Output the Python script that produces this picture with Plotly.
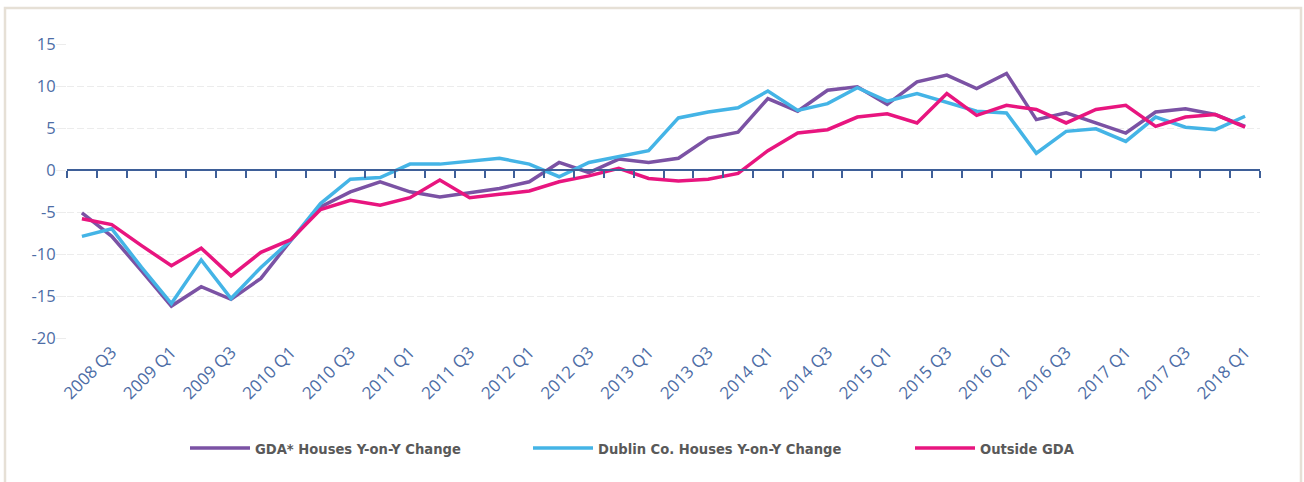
import plotly.graph_objects as go

quarters = [
    "2008 Q2", "2008 Q3", "2008 Q4", "2009 Q1", "2009 Q2", "2009 Q3", "2009 Q4", "2010 Q1",
    "2010 Q2", "2010 Q3", "2010 Q4", "2011 Q1", "2011 Q2", "2011 Q3", "2011 Q4", "2012 Q1",
    "2012 Q2", "2012 Q3", "2012 Q4", "2013 Q1", "2013 Q2", "2013 Q3", "2013 Q4", "2014 Q1",
    "2014 Q2", "2014 Q3", "2014 Q4", "2015 Q1", "2015 Q2", "2015 Q3", "2015 Q4", "2016 Q1",
    "2016 Q2", "2016 Q3", "2016 Q4", "2017 Q1", "2017 Q2", "2017 Q3", "2017 Q4", "2018 Q1",
]

gda = [-5.1, -7.9, -12.0, -16.2, -13.9, -15.4, -12.9, -8.4, -4.4, -2.6,
       -1.4, -2.6, -3.2, -2.7, -2.2, -1.4, 0.9, -0.3, 1.3, 0.9,
       1.4, 3.8, 4.5, 8.5, 7.0, 9.5, 9.9, 7.8, 10.5, 11.3,
       9.7, 11.5, 6.0, 6.8, 5.6, 4.4, 6.9, 7.3, 6.6, 5.2]

dublin = [-7.9, -7.0, -11.6, -15.9, -10.7, -15.3, -11.6, -8.4, -4.0, -1.1,
          -0.9, 0.7, 0.7, 1.0, 1.4, 0.7, -0.8, 0.9, 1.6, 2.3,
          6.2, 6.9, 7.4, 9.4, 7.1, 7.9, 9.8, 8.2, 9.1, 8.0,
          7.0, 6.8, 2.0, 4.6, 4.9, 3.4, 6.3, 5.1, 4.8, 6.4]

outside = [-5.8, -6.5, -9.0, -11.4, -9.3, -12.6, -9.8, -8.3, -4.7, -3.6,
           -4.2, -3.3, -1.2, -3.3, -2.9, -2.5, -1.4, -0.7, 0.2, -1.0,
           -1.3, -1.1, -0.4, 2.3, 4.4, 4.8, 6.3, 6.7, 5.6, 9.1,
           6.5, 7.7, 7.2, 5.6, 7.2, 7.7, 5.2, 6.3, 6.6, 5.1]

x_labels = ["2008 Q3", "2009 Q1", "2009 Q3", "2010 Q1", "2010 Q3", "2011 Q1", "2011 Q3",
            "2012 Q1", "2012 Q3", "2013 Q1", "2013 Q3", "2014 Q1", "2014 Q3", "2015 Q1",
            "2015 Q3", "2016 Q1", "2016 Q3", "2017 Q1", "2017 Q3", "2018 Q1"]

y_ticks = [-20, -15, -10, -5, 0, 5, 10, 15]
y_labels = ["-20", "-15", "-10", "-5", "0", "5", "10", "15"]

series = [
    ("GDA* Houses Y-on-Y Change", gda, "#7b52a4", "legend"),
    ("Dublin Co. Houses Y-on-Y Change", dublin, "#44b4e6", "legend2"),
    ("Outside GDA", outside, "#e8157f", "legend3"),
]

W, H = 1304, 482
L, R, T, B = 67, 44, 44, 144
pw, ph = W - L - R, H - T - B

def px_x(p):
    return (p - L) / pw

def px_y(p):
    return (H - B - p) / ph

fig = go.Figure()
for name, vals, col, lg in series:
    fig.add_trace(go.Scatter(
        x=quarters, y=vals, name=name, mode="lines",
        line=dict(color=col, width=3.5), legend=lg, showlegend=True,
    ))

# empty helper trace so the overlaid zero-level axis (with boundary ticks) is drawn
fig.add_trace(go.Scatter(x=[None], y=[None], xaxis="x2", yaxis="y",
                         mode="lines", showlegend=False, hoverinfo="skip"))

axis_blue = "#3e5f98"
label_blue = "#4d6da6"
grid_col = "#ececec"

legend_common = dict(
    orientation="h", yanchor="middle", xanchor="left", y=px_y(448),
    bgcolor="rgba(0,0,0,0)", itemwidth=60,
    font=dict(family="DejaVu Sans Condensed", size=14.6, color="#595959", weight="bold"),
)

fig.update_layout(
    width=W, height=H,
    margin=dict(l=L, r=R, t=T, b=B, autoexpand=False),
    paper_bgcolor="white", plot_bgcolor="white",
    showlegend=True,
    xaxis=dict(
        type="category", categoryorder="array", categoryarray=quarters,
        range=[-0.5, len(quarters) - 0.5], automargin=False,
        tickmode="array", tickvals=x_labels, ticktext=x_labels,
        tickangle=-45, ticks="", showline=False, showgrid=False, zeroline=False,
        tickfont=dict(family="Open Sans", size=17, color=label_blue),
    ),
    xaxis2=dict(
        overlaying="x", anchor="free", position=20 / 35, automargin=False,
        range=[-0.5, len(quarters) - 0.5],
        tickmode="linear", tick0=-0.5, dtick=1,
        ticks="outside", ticklen=7, tickwidth=1.5, tickcolor=axis_blue,
        showline=True, linecolor=axis_blue, linewidth=2,
        showticklabels=False, showgrid=False, zeroline=False,
    ),
    yaxis=dict(
        range=[-20, 15], tickmode="array", tickvals=y_ticks, ticktext=y_labels,
        automargin=False,
        showgrid=True, gridcolor=grid_col, gridwidth=1, griddash="7px,3px",
        ticks="outside", ticklen=10, tickcolor=grid_col, ticklabelstandoff=-3,
        zeroline=False, showline=False,
        tickfont=dict(family="Open Sans", size=16.5, color=label_blue),
    ),
    legend=dict(legend_common, x=px_x(185)),
    legend2=dict(legend_common, x=px_x(528)),
    legend3=dict(legend_common, x=px_x(910)),
    shapes=[dict(
        type="rect", xref="paper", yref="paper", layer="below",
        x0=px_x(5), x1=px_x(1301), y0=px_y(495), y1=px_y(8),
        line=dict(color="#e6e0d6", width=2.5), fillcolor="rgba(0,0,0,0)",
    )],
)

fig.write_html("out.html", config={"displayModeBar": False},
               post_script="document.body.style.margin='0';")
